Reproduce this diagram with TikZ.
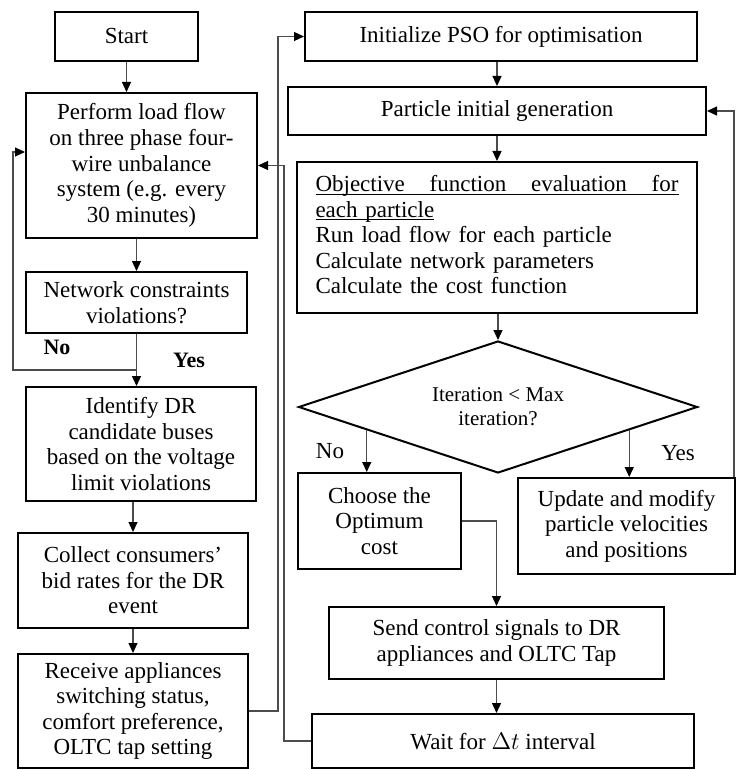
\documentclass[tikz,border=0pt]{standalone}
\usepackage{fontspec}
\setmainfont{Liberation Serif}
\usetikzlibrary{shapes.geometric,arrows.meta,positioning}
\setlength{\parindent}{0pt}

\tikzset{
    box/.style={draw, line width=1pt, inner sep=0pt, align=center, font=\fontsize{11.5}{12.8}\selectfont},
    decision/.style={draw, diamond, aspect=3, line width=1pt, inner sep=0pt, align=center, font=\fontsize{10.5}{12}\selectfont},
    flow/.style={draw=black!70, line width=0.6pt, -{Triangle[length=5pt,width=4.5pt,color=black]}},
    tag/.style={inner sep=1pt, font=\fontsize{11.5}{12.8}\selectfont},
    boldtag/.style={inner sep=1pt, font=\fontsize{11}{12.8}\selectfont\bfseries}
}

\begin{document}
\begin{tikzpicture}[x=0.5pt, y=-0.5pt]
    \useasboundingbox (0,0) rectangle (736,770);

    \node[box, minimum width=71.5pt, minimum height=24.5pt] (start) at (126.5,36.5) {Start};
    \node[box, minimum width=115.5pt, minimum height=72.5pt] (loadflow) at (141.5,165.5) {Perform load flow\\on three phase four-\\wire unbalance\\system (e.g. every\\30 minutes)};
    \node[box, minimum width=110.5pt, minimum height=30.5pt] (check) at (136.5,302.5) {Network constraints\\violations?};
    \node[box, minimum width=115pt, minimum height=57pt] (identify) at (141,444) {Identify DR\\candidate buses\\based on the voltage\\limit violations};
    \node[box, minimum width=115pt, minimum height=47.5pt] (collect) at (133,580.5) {Collect consumers'\\bid rates for the DR\\event};
    \node[box, minimum width=115pt, minimum height=57pt] (receive) at (133,711) {Receive appliances\\switching status,\\comfort preference,\\OLTC tap setting};

    \node[box, minimum width=196pt, minimum height=24.5pt] (init) at (501,36.5) {Initialize PSO for optimisation};
    \node[box, minimum width=209pt, minimum height=24pt] (particle) at (497,111) {Particle initial generation};
    \node[box, minimum width=200pt, minimum height=75.5pt, text width=181.5pt, align=left] (objective) at (497,237.5) {\strut\underline{\smash{\makebox[181.5pt]{Objective\hfill function\hfill evaluation\hfill for}}}\par\underline{\smash{each particle}}\par Run load flow for each particle\par Calculate network parameters\par Calculate the cost function\strut};
    \node[decision, minimum width=199.5pt, minimum height=66pt] (iter) at (498,407) {Iteration < Max\\iteration?};
    \node[box, minimum width=81.5pt, minimum height=48pt] (choose) at (379.5,521) {Choose the\\Optimum\\cost};
    \node[box, minimum width=108.5pt, minimum height=48pt] (update) at (626.5,526) {Update and modify\\particle velocities\\and positions};
    \node[box, minimum width=167.5pt, minimum height=36pt] (send) at (496.5,643) {Send control signals to DR\\appliances and OLTC Tap};
    \node[box, minimum width=191pt, minimum height=27pt] (wait) at (503,741) {Wait for $\Delta t$ interval};

    \node[boldtag] (noleft) at (57,347) {No};
    \node[boldtag] (yesleft) at (189,360) {Yes};
    \node[tag] (noright) at (330,451) {No};
    \node[tag] (yesright) at (678,453) {Yes};

    \coordinate (nobend) at (13,370);

    \draw[flow] (start) -- (start |- loadflow.north);
    \draw[flow] (loadflow.south -| check) -- (check);
    \draw[flow] (check) -- (check |- identify.north);
    \draw[flow] (check |- nobend) -- (nobend) |- ([yshift=6.75pt]loadflow.west);
    \draw[flow] (identify.south -| collect) -- (collect);
    \draw[flow] (collect) -- (receive);
    \draw[flow] (receive.east) -- ++(14.5pt,0) |- (init.west);
    \draw[flow] (wait.west) -- ++(-13.5pt,0) |- (loadflow.east);

    \draw[flow] (init.south -| particle) -- (particle);
    \draw[flow] (particle) -- (objective);
    \draw[flow] (objective.south -| iter) -- (iter);
    \draw[flow] (iter.190) -- (iter.190 |- choose.north);
    \draw[flow] (iter.350) -- (iter.350 |- update.north);
    \draw[flow] (choose.east) -| (send.north);
    \draw[flow] (send) -- (send |- wait.north);
    \draw[flow] ([xshift=-1pt]update.north east) |- (particle.east);
\end{tikzpicture}
\end{document}
